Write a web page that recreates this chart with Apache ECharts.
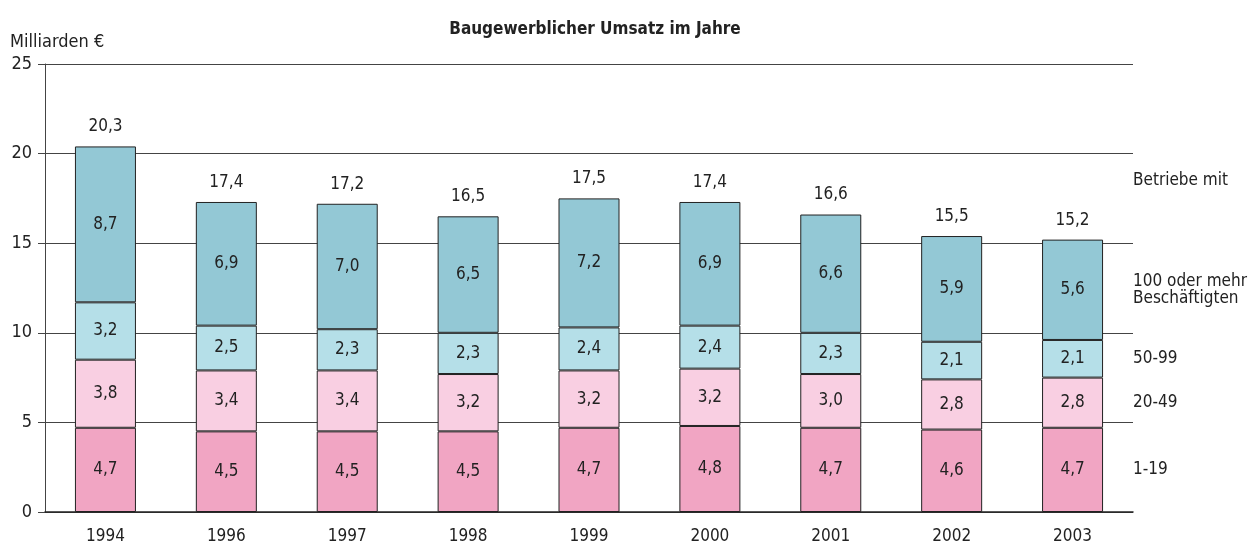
<!DOCTYPE html>
<html><head><meta charset="utf-8">
<script src="https://cdn.jsdelivr.net/npm/echarts@6/dist/echarts.min.js"></script>
<style>html,body{margin:0;padding:0;background:#fff}#c{width:1257px;height:545px}</style>
</head><body><div id="c"></div>
<script>
const years = ['1994','1996','1997','1998','1999','2000','2001','2002','2003'];
const s1_19 = [4.7,4.5,4.5,4.5,4.7,4.8,4.7,4.6,4.7];
const s20_49 = [3.8,3.4,3.4,3.2,3.2,3.2,3.0,2.8,2.8];
const s50_99 = [3.2,2.5,2.3,2.3,2.4,2.4,2.3,2.1,2.1];
const s100 = [8.7,6.9,7.0,6.5,7.2,6.9,6.6,5.9,5.6];
const totals = [20.3,17.4,17.2,16.5,17.5,17.4,16.6,15.5,15.2];
const seriesNames = ['1-19','20-49','50-99','100 oder mehr\nBeschäftigten'];
const colors = ['#f1a5c3','#f9cfe2','#b5dfe8','#93c8d5'];
const yTicks = [0,5,10,15,20,25];

const FONT = '"Liberation Sans Narrow","DejaVu Sans Condensed","Roboto",sans-serif';
const fmt = v => String(v.toFixed(1)).replace('.', ',');
const chart = echarts.init(document.getElementById('c'), null, {renderer:'canvas'});
const dataSets = [s1_19, s20_49, s50_99, s100];
const series = dataSets.map((d,i)=>({
  name: seriesNames[i], type:'bar', stack:'a', barWidth:61,
  data: d,
  itemStyle:{color:colors[i], borderColor:'#222', borderWidth:1},
  label:{show:true, position:'inside', color:'#222', fontSize:17, fontFamily:FONT,
    formatter:p=>fmt(p.value)},
  emphasis:{disabled:true}, animation:false
}));
// totals above bars
series.push({
  name:'total', type:'bar', stack:'a', barWidth:61,
  data: totals.map(()=>0),
  itemStyle:{color:'transparent'},
  label:{show:true, position:'top', distance:11, color:'#222', fontSize:17, fontFamily:FONT,
    formatter:p=>fmt(totals[p.dataIndex])},
  animation:false
});
chart.setOption({
  animation:false,
  textStyle:{fontFamily:FONT},
  title:{text:'Baugewerblicher Umsatz im Jahre', left:590, textAlign:'center', top:16,
    textStyle:{fontSize:17, fontWeight:'bold', color:'#222', fontFamily:FONT}},
  grid:{left:45, right:124, top:64, bottom:32},
  xAxis:{type:'category', data:years,
    axisLine:{lineStyle:{color:'#222', width:1.5}}, axisTick:{show:false},
    axisLabel:{color:'#222', fontSize:17, margin:16, fontFamily:FONT}},
  yAxis:{type:'value', min:0, max:25, interval:5,
    axisLine:{show:true, lineStyle:{color:'#444'}},
    axisTick:{show:true, length:7, lineStyle:{color:'#444'}},
    splitLine:{lineStyle:{color:'#444', width:1}},
    axisLabel:{color:'#222', fontSize:18, margin:13, fontFamily:FONT,
      formatter:v=>yTicks.includes(v)?String(v):''}},
  series: series
});
// series labels at the right, aligned with the last bar's segments
const last = years.length-1;
const gfx = [];
let cum = 0;
dataSets.forEach((d,i)=>{
  const mid = cum + d[last]/2; cum += d[last];
  const y = chart.convertToPixel({yAxisIndex:0}, mid);
  gfx.push({type:'text', left:1133, top:y - (i===3?17:9),
    style:{text:seriesNames[i], font:'17px '+FONT, fill:'#222', lineHeight:17}});
});
gfx.push({type:'text', left:1133, top:172, style:{text:'Betriebe mit', font:'17px '+FONT, fill:'#222'}});
gfx.push({type:'text', left:10, top:33, style:{text:'Milliarden €', font:'18px '+FONT, fill:'#222'}});
chart.setOption({graphic:gfx});
</script></body></html>
